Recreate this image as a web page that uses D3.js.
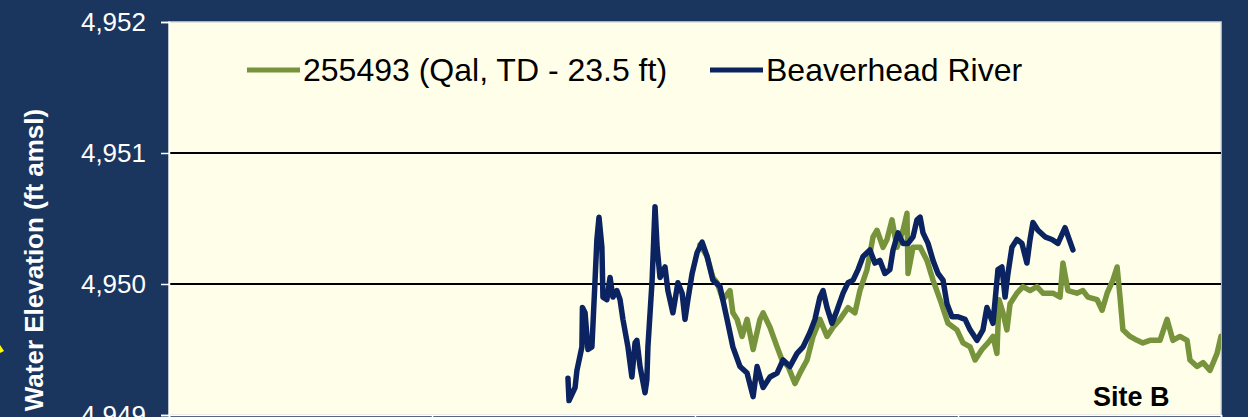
<!DOCTYPE html>
<html>
<head>
<meta charset="utf-8">
<script src="https://cdn.jsdelivr.net/npm/d3@7"></script>
<style>
  body { margin: 0; background: #1b365e; }
  svg { display: block; }
</style>
</head>
<body>
<div id="chart-container"></div>
<script>
// y ticks (ft amsl)
const yTicks = [4949, 4950, 4951, 4952];
const xTicks = [0, 10, 20, 30, 40];

// 255493 (Qal, TD - 23.5 ft) -- day / elevation
const wellDays = [20.19, 20.46, 20.68, 20.84, 21.06, 21.33, 21.44, 21.60, 21.79, 21.98, 22.21, 22.47, 22.59, 22.85, 23.12, 23.31, 23.54, 23.80, 23.99, 24.26, 24.49, 24.75, 25.02, 25.25, 25.51, 25.82, 26.08, 26.27, 26.54, 26.77, 26.92, 27.15, 27.30, 27.49, 27.68, 27.91, 28.06, 28.10, 28.29, 28.56, 28.82, 29.05, 29.32, 29.62, 29.96, 30.19, 30.46, 30.65, 30.91, 31.14, 31.33, 31.48, 31.56, 31.71, 31.86, 31.98, 32.24, 32.47, 32.74, 33.00, 33.23, 33.61, 33.88, 33.99, 34.18, 34.52, 34.75, 34.94, 35.29, 35.48, 35.67, 35.89, 36.05, 36.16, 36.27, 36.54, 36.81, 37.03, 37.30, 37.68, 37.95, 38.17, 38.44, 38.71, 38.82, 39.09, 39.32, 39.58, 39.85, 40.0];
const wellElev = [4950.30, 4950.21, 4950.05, 4950.01, 4949.88, 4949.95, 4949.78, 4949.73, 4949.60, 4949.73, 4949.50, 4949.73, 4949.78, 4949.67, 4949.52, 4949.42, 4949.37, 4949.24, 4949.32, 4949.42, 4949.60, 4949.73, 4949.60, 4949.67, 4949.73, 4949.82, 4949.78, 4949.95, 4950.11, 4950.36, 4950.41, 4950.28, 4950.34, 4950.49, 4950.28, 4950.41, 4950.54, 4950.08, 4950.28, 4950.28, 4950.18, 4950.03, 4949.88, 4949.70, 4949.65, 4949.55, 4949.52, 4949.42, 4949.50, 4949.55, 4949.60, 4949.47, 4949.88, 4949.78, 4949.65, 4949.85, 4949.93, 4949.98, 4949.95, 4949.98, 4949.93, 4949.93, 4949.90, 4950.16, 4949.95, 4949.93, 4949.95, 4949.90, 4949.88, 4949.80, 4949.93, 4950.03, 4950.13, 4949.90, 4949.65, 4949.60, 4949.57, 4949.55, 4949.57, 4949.57, 4949.73, 4949.57, 4949.60, 4949.57, 4949.42, 4949.37, 4949.40, 4949.34, 4949.47, 4949.60];

// Beaverhead River -- day / elevation
const riverDays = [15.17, 15.21, 15.44, 15.51, 15.70, 15.72, 15.82, 15.93, 16.08, 16.20, 16.27, 16.35, 16.46, 16.50, 16.65, 16.77, 16.88, 17.03, 17.15, 17.26, 17.45, 17.60, 17.72, 17.79, 17.91, 18.10, 18.17, 18.21, 18.37, 18.48, 18.56, 18.67, 18.86, 18.97, 19.16, 19.35, 19.51, 19.62, 19.73, 19.89, 20.08, 20.27, 20.46, 20.68, 20.95, 21.22, 21.44, 21.71, 21.98, 22.21, 22.36, 22.59, 22.85, 23.12, 23.35, 23.61, 23.88, 24.11, 24.37, 24.56, 24.75, 24.87, 25.02, 25.21, 25.40, 25.63, 25.82, 26.01, 26.20, 26.39, 26.65, 26.84, 27.03, 27.22, 27.41, 27.53, 27.72, 27.91, 28.10, 28.29, 28.44, 28.56, 28.67, 28.86, 29.05, 29.24, 29.43, 29.58, 29.77, 30.00, 30.27, 30.46, 30.72, 30.95, 31.10, 31.33, 31.52, 31.67, 31.79, 31.90, 32.05, 32.24, 32.43, 32.62, 32.74, 32.85, 33.04, 33.31, 33.57, 33.80, 34.07, 34.37];
const riverElev = [4949.28, 4949.11, 4949.21, 4949.34, 4949.52, 4949.82, 4949.78, 4949.50, 4949.52, 4950.03, 4950.34, 4950.51, 4950.28, 4949.90, 4949.88, 4950.05, 4949.90, 4949.95, 4949.88, 4949.73, 4949.52, 4949.29, 4949.55, 4949.57, 4949.37, 4949.17, 4949.27, 4949.52, 4950.03, 4950.59, 4950.28, 4950.05, 4950.13, 4949.95, 4949.78, 4950.01, 4949.93, 4949.73, 4949.88, 4950.08, 4950.24, 4950.32, 4950.21, 4950.03, 4949.98, 4949.73, 4949.52, 4949.37, 4949.32, 4949.14, 4949.37, 4949.21, 4949.29, 4949.32, 4949.42, 4949.37, 4949.47, 4949.52, 4949.63, 4949.73, 4949.90, 4949.95, 4949.82, 4949.70, 4949.80, 4949.93, 4950.01, 4950.03, 4950.11, 4950.21, 4950.26, 4950.16, 4950.18, 4950.08, 4950.11, 4950.26, 4950.39, 4950.31, 4950.31, 4950.36, 4950.49, 4950.51, 4950.39, 4950.31, 4950.18, 4950.08, 4950.03, 4949.85, 4949.75, 4949.75, 4949.73, 4949.65, 4949.57, 4949.65, 4949.82, 4949.70, 4950.11, 4950.13, 4949.90, 4950.08, 4950.28, 4950.34, 4950.31, 4950.16, 4950.34, 4950.47, 4950.41, 4950.36, 4950.34, 4950.31, 4950.43, 4950.26];

const seriesNames = ["255493 (Qal, TD - 23.5 ft)", "Beaverhead River"];
const seriesColors = ["#77933c", "#0b2461"];

const margin = { top: 22, right: 27, bottom: 2, left: 169 };
const width = 1248 - margin.left - margin.right;
const height = 417 - margin.top - margin.bottom;

const svg = d3
  .select("#chart-container")
  .append("svg")
  .attr("width", 1248)
  .attr("height", 417)
  .style("background", "#1b365e")
  .style("font-family", "Arial, 'Liberation Sans', sans-serif");

const chart = svg
  .append("g")
  .attr("transform", `translate(${margin.left},${margin.top})`);

const x = d3.scaleLinear().domain([0, 40]).range([0, width]);
const y = d3.scaleLinear().domain([4949, 4952]).range([height, 0]);

// plot area
chart
  .append("rect")
  .attr("width", width)
  .attr("height", height)
  .attr("fill", "#ffffe9")
  .attr("stroke", "#dcdcdc")
  .attr("stroke-width", 1.5);

svg
  .append("defs")
  .append("clipPath")
  .attr("id", "clip")
  .append("rect")
  .attr("width", width)
  .attr("height", height);

// gridlines
chart
  .append("g")
  .selectAll("line")
  .data(yTicks.filter((d) => d > 4949 && d < 4952))
  .join("line")
  .attr("x1", 0)
  .attr("x2", width)
  .attr("y1", (d) => y(d))
  .attr("y2", (d) => y(d))
  .attr("stroke", "#000")
  .attr("stroke-width", 2);

// y axis
const yAxis = chart
  .append("g")
  .call(
    d3
      .axisLeft(y)
      .tickValues(yTicks)
      .tickSize(8)
      .tickPadding(15)
      .tickFormat(d3.format(","))
  );
yAxis.select(".domain").attr("stroke", "#fff").attr("stroke-width", 1.5);
yAxis.selectAll(".tick line").attr("stroke", "#fff").attr("stroke-width", 1.5);
yAxis
  .selectAll(".tick text")
  .attr("fill", "#fff")
  .attr("font-size", 26)
  .attr("font-family", "Arial, 'Liberation Sans', sans-serif");

// x axis (labels fall below the frame)
const xAxis = chart
  .append("g")
  .attr("transform", `translate(0,${height})`)
  .call(d3.axisBottom(x).tickValues(xTicks).tickSize(6).tickFormat(""));
xAxis.select(".domain").attr("stroke", "#fff").attr("stroke-width", 1.5);
xAxis.selectAll(".tick line").attr("stroke", "#fff").attr("stroke-width", 1.5);

// y label
svg
  .append("text")
  .attr("transform", "translate(43,260) rotate(-90)")
  .attr("text-anchor", "middle")
  .attr("fill", "#fff")
  .attr("font-size", 26)
  .attr("font-weight", "bold")
  .text("Water Elevation (ft amsl)");

// small yellow pointer at left edge
svg
  .append("path")
  .attr("d", "M0,345 L4,351 L0,353 Z")
  .attr("fill", "#ffff00");

// series
const series = [
  { name: seriesNames[0], color: seriesColors[0], days: wellDays, vals: wellElev },
  { name: seriesNames[1], color: seriesColors[1], days: riverDays, vals: riverElev },
];

const line = d3
  .line()
  .x((d) => x(d[0]))
  .y((d) => y(d[1]));

chart
  .append("g")
  .attr("clip-path", "url(#clip)")
  .selectAll("path")
  .data(series)
  .join("path")
  .attr("d", (s) => line(d3.zip(s.days, s.vals)))
  .attr("fill", "none")
  .attr("stroke", (s) => s.color)
  .attr("stroke-width", 5.5)
  .attr("stroke-linejoin", "round")
  .attr("stroke-linecap", "round");

// legend
const legendPos = [78, 541];
const legend = chart
  .append("g")
  .selectAll("g")
  .data(series)
  .join("g")
  .attr("transform", (d, i) => `translate(${legendPos[i]},48)`);
legend
  .append("line")
  .attr("x1", 0)
  .attr("x2", 53)
  .attr("stroke", (d) => d.color)
  .attr("stroke-width", 5);
legend
  .append("text")
  .attr("x", 56)
  .attr("y", 11)
  .attr("font-size", 32)
  .attr("fill", "#000")
  .text((d) => d.name);

// site label
chart
  .append("text")
  .attr("x", 924)
  .attr("y", 384)
  .attr("font-size", 27)
  .attr("font-weight", "bold")
  .attr("fill", "#000")
  .text("Site B");
</script>
</body>
</html>
